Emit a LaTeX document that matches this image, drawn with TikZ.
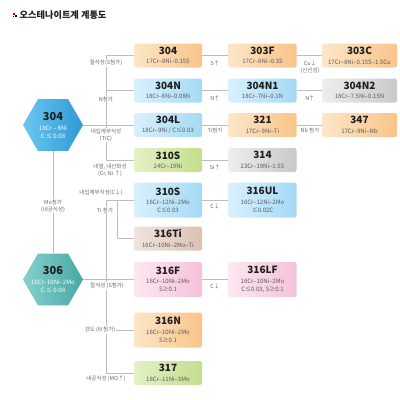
\documentclass[tikz,border=0pt]{standalone}
\usepackage{fontspec}
\setmainfont{Noto Sans CJK KR}
\usetikzlibrary{shapes.geometric}
\definecolor{orL}{HTML}{FDE6C8}\definecolor{orR}{HTML}{F9C48A}
\definecolor{blL}{HTML}{DAF0FC}\definecolor{blR}{HTML}{A3DAF6}
\definecolor{grL}{HTML}{EEEEEE}\definecolor{grR}{HTML}{C8C8C8}
\definecolor{gnL}{HTML}{E4F0C6}\definecolor{gnR}{HTML}{C4DE8C}
\definecolor{pkL}{HTML}{FCE7F1}\definecolor{pkR}{HTML}{F5C2DA}
\definecolor{tnL}{HTML}{F0E4DC}\definecolor{tnR}{HTML}{DBC2B2}
\definecolor{hxA}{HTML}{6CC6F0}\definecolor{hxB}{HTML}{2E9AD6}
\definecolor{tlA}{HTML}{86CFCD}\definecolor{tlB}{HTML}{48A8A6}
\definecolor{lncol}{HTML}{BDBDBD}
\definecolor{lbcol}{HTML}{6A6A6A}
\definecolor{ttl}{HTML}{1E1E1E}
\definecolor{subc}{HTML}{5A5A5A}
\newcommand\bxt[1]{{\fontsize{10}{10}\selectfont\bfseries\color{ttl}#1}\\[1.5pt]}
\newcommand\hxt[1]{{\fontsize{11}{11}\selectfont\bfseries\color{ttl}#1}\\[2pt]}
\tikzset{
  boxbase/.style={rounded corners=2pt, minimum width=68pt, minimum height=24pt, inner sep=1pt, align=center,
    font=\fontsize{6}{8}\selectfont, text=subc},
  tallbox/.style={minimum height=35pt},
  widebox/.style={minimum width=75pt},
  orng/.style={boxbase, left color=orL, right color=orR},
  blu/.style={boxbase, left color=blL, right color=blR},
  gry/.style={boxbase, left color=grL, right color=grR},
  grn/.style={boxbase, left color=gnL, right color=gnR},
  pnk/.style={boxbase, left color=pkL, right color=pkR},
  tan/.style={boxbase, left color=tnL, right color=tnR},
  hexa/.style={regular polygon, regular polygon sides=6, minimum size=60pt, inner sep=0pt},
  hextext/.style={align=center, inner sep=0pt, font=\fontsize{6}{8}\selectfont, text=white},
  ln/.style={draw=lncol, line width=0.8pt},
  lbl/.style={font=\fontsize{5.5}{7}\selectfont, text=lbcol, align=center, inner sep=0.8pt},
  lblw/.style={lbl, fill=white},
}
\begin{document}
\begin{tikzpicture}[x=1pt,y=-1pt]
\useasboundingbox (0,0) rectangle (400,400);
% title
\fill[red!80!black] (12.5,12.5) rectangle (14.5,14.5);
\fill[blue!50!black] (15,15) rectangle (17,17);
\fill[blue!50!black] (12.5,15.5) rectangle (14,17);
\node[anchor=west, inner sep=0pt, font=\fontsize{9.2}{10}\selectfont\bfseries, text=ttl] (title) at (19.5,15) {오스테나이트계 계통도};

% hexagons
\node[hexa, left color=hxA, right color=hxB] (h304) at (53,125) {};
\node[hextext] (h304t) at (h304) {\hxt{304}18Cr – 8Ni\\C ≤ 0.08};
\node[hexa, left color=tlA, right color=tlB] (h306) at (53,279.5) {};
\node[hextext] (h306t) at (h306) {\hxt{306}16Cr–10Ni–2Mo\\C ≤ 0.08};

% boxes
\node[orng] (b304) at (168,55.5) {\bxt{304}17Cr–8Ni–0.15S};
\node[orng] (b303F) at (262.5,55.5) {\bxt{303F}17Cr–8Ni–0.3S};
\node[orng,widebox] (b303C) at (359.5,55.5) {\bxt{303C}17Cr–8Ni–0.15S–1.5Cu};
\node[blu] (b304N) at (168,90.5) {\bxt{304N}18Cr–8Ni–0.08N};
\node[blu] (b304N1) at (262.5,90.5) {\bxt{304N1}18Cr–7Ni–0.1N};
\node[gry,widebox] (b304N2) at (359.5,90.5) {\bxt{304N2}18Cr–7.5Ni–0.15N};
\node[blu] (b304L) at (168,125) {\bxt{304L}18Cr–9Ni / C≤0.03};
\node[orng] (b321) at (262.5,125) {\bxt{321}17Cr–9Ni–Ti};
\node[orng,widebox] (b347) at (359.5,125) {\bxt{347}17Cr–9Ni–Nb};
\node[grn] (b310Sg) at (168,160) {\bxt{310S}24Cr–19Ni};
\node[gry] (b314) at (262.5,160) {\bxt{314}23Cr–19Ni–1.5S};
\node[blu,tallbox] (b310Sb) at (168,200) {\bxt{310S}16Cr–12Ni–2Mo\\C≤0.03};
\node[blu,tallbox] (b316UL) at (262.5,200) {\bxt{316UL}16Cr–12Ni–2Mo\\≤0.02C};
\node[tan] (b316Ti) at (168,238.5) {\bxt{316Ti}16Cr–10Ni–2Mo–Ti};
\node[pnk,tallbox] (b316F) at (168,279.5) {\bxt{316F}16Cr–10Ni–2Mo\\S≥0.1};
\node[pnk,tallbox] (b316LF) at (262.5,279.5) {\bxt{316LF}16Cr–10Ni–2Mo\\C≤0.03, S≥0.1};
\node[orng,tallbox] (b316N) at (168,330) {\bxt{316N}16Cr–10Ni–2Mo\\S≥0.1};
\node[grn] (b317) at (168,373) {\bxt{317}18Cr–11Ni–3Mo};

% trunk coordinates
\coordinate (t1) at (106,55.5);
\coordinate (t2) at (106,200);
\coordinate (t3) at (117,200);

% connectors
\draw[ln] (h304.south) -- (h306.north);
\draw[ln] (h304.east) -- (b304L.west);
\draw[ln] (b304.west) -- (t1) |- (b310Sg.west);
\draw[ln] (b304N.west) -- (b304N.west -| t1);
\draw[ln] (h306.east) -- (b316F.west);
\draw[ln] (b310Sb.west) -- (t2) |- (b317.west);
\draw[ln] (t3) |- (b316Ti.west);
\draw[ln] (b316N.west) -- (b316N.west -| t2);
\draw[ln] (b304) -- (b303F);
\draw[ln] (b303F) -- (b303C);
\draw[ln] (b304N) -- (b304N1);
\draw[ln] (b304N1) -- (b304N2);
\draw[ln] (b304L) -- (b321);
\draw[ln] (b321) -- (b347);
\draw[ln] (b310Sg) -- (b314);
\draw[ln] (b310Sb) -- (b316UL);
\draw[ln] (b316F) -- (b316LF);

% labels on trunk
\node[lblw] (l1) at (106,63) {절삭성(S첨가)};
\node[lblw] (l2) at (106,99) {N첨가};
\node[lblw] (l3) at (106,135) {내입계부식성\\(TiC)};
\node[lblw] (l4) at (110,170) {내열, 내산화성\\(Cr, Ni ↑)};
\node[lblw] (l5) at (53,206) {Mo첨가\\(내공식성)};
\node[lblw] (l6) at (101,193) {내입계부식성(C↓)};
\node[lblw] (l7) at (105,210) {Ti 첨가};
\node[lblw] (l8) at (107,286) {절삭성 (S첨가)};
\node[lblw] (l9) at (100,330) {강도 (N 첨가)};
\node[lblw] (l10) at (106,378.5) {내공식성 (MO↑)};

% labels between boxes
\node[lbl] (m1) at (215,63) {S↑};
\node[lbl] (m2) at (310,67) {Cu↓\\(신선성)};
\node[lbl] (m3) at (215,98) {N↑};
\node[lbl] (m4) at (310,98) {N↑};
\node[lbl] (m5) at (215,130) {Ti첨가};
\node[lbl] (m6) at (310,130) {Nb 첨가};
\node[lbl] (m7) at (215,167) {Si↑};
\node[lbl] (m8) at (215,206.5) {C↓};
\node[lbl] (m9) at (215,286.5) {C↓};
\end{tikzpicture}
\end{document}
